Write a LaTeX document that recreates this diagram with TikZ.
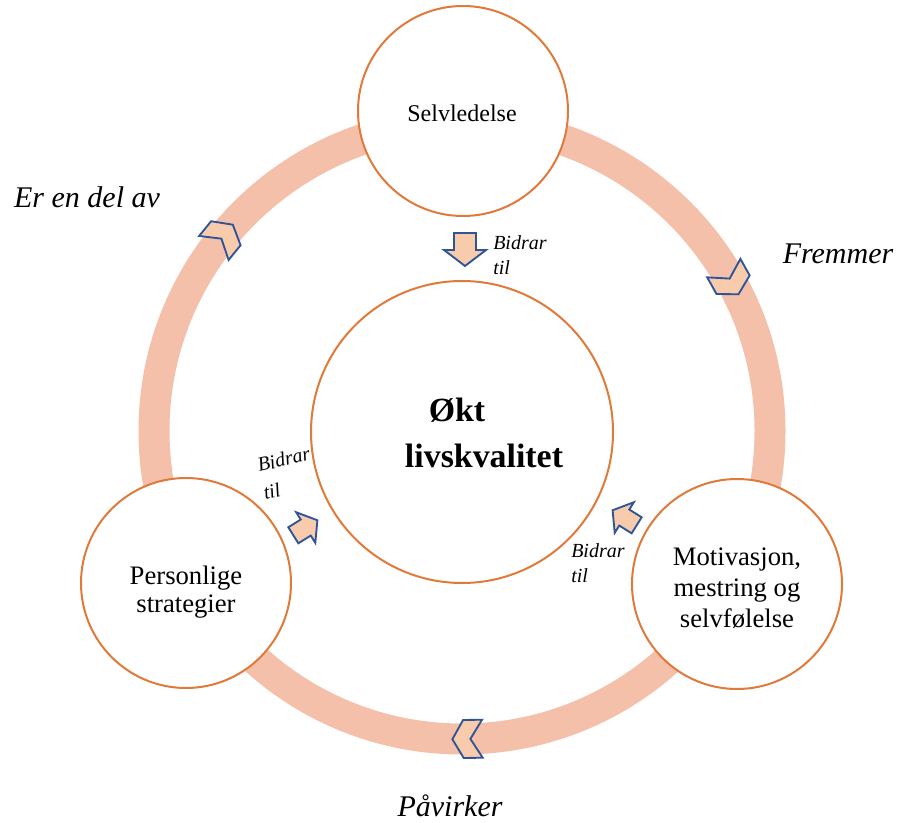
\documentclass[tikz,border=0pt]{standalone}
\usepackage{fontspec}
\setmainfont{Liberation Serif}
\usetikzlibrary{calc}
\definecolor{ringfill}{HTML}{F4C0AA}
\definecolor{circleline}{HTML}{E07A3A}
\definecolor{arrowfill}{HTML}{F8CBAD}
\definecolor{arrowline}{HTML}{2F5597}
\tikzset{
  bubble/.style={circle, draw=circleline, line width=1.5pt, fill=white, inner sep=0pt},
  smallbubble/.style={bubble, minimum size=157.5pt},
  chevron/.style={draw=arrowline, fill=arrowfill, line width=1.4pt, line join=miter},
  blockarrow/.style={draw=arrowline, fill=arrowfill, line width=1.4pt, line join=miter},
  flowlabel/.style={font=\fontsize{22.5}{27}\selectfont\itshape, inner sep=0pt},
  contriblabel/.style={font=\fontsize{15}{18.75}\selectfont\itshape, align=left, inner sep=0pt},
  bubbletext/.style={font=\fontsize{20}{23.25}\selectfont, align=center, inner sep=0pt},
  headline/.style={font=\fontsize{25.4}{35}\selectfont\bfseries, inner sep=0pt}
}
% clockwise chevron on the ring at angle #1 (pixel units, centre (462,-431), radius 308)
\newcommand{\ringchevron}[1]{%
  \draw[chevron, shift={($(462,-431)+(#1:308)$)}, rotate=#1-90]
    (15,0) -- (4,19) -- (-15,19) -- (-3,0) -- (-15,-19) -- (4,-19) -- cycle;}
% block arrow pointing towards the centre
\newcommand{\towardcentre}[3]{%
  \draw[blockarrow, shift={#1}, rotate=#2, scale=#3]
    (-16,11) -- (1,11) -- (1,21) -- (17,0) -- (1,-21) -- (1,-11) -- (-16,-11) -- cycle;}
\begin{document}
\begin{tikzpicture}[x=0.75pt, y=0.75pt]
  \useasboundingbox (0,0) rectangle (898,-823);

  % the cycle ring
  \coordinate (ringcentre) at (462,-431);
  \draw[ringfill, line width=23.25pt] (ringcentre) circle[radius=308];

  % chevrons along the ring (clockwise flow)
  \ringchevron{140.8}
  \ringchevron{29.1}
  \ringchevron{-89}

  % circles
  \node[bubble, minimum size=226.5pt] (centre) at (462,-432) {};
  \node[headline] (okt) at (457,-410) {Økt};
  \node[headline] (livs) at (484,-456) {livskvalitet};

  \node[smallbubble] (selv) at (463,-111) {};
  \node[font=\fontsize{18}{22}\selectfont, inner sep=0pt] (selvtext) at (462,-113) {Selvledelse};

  \node[smallbubble] (pers) at (186,-583) {};
  \node[bubbletext, font=\fontsize{20}{21}\selectfont] (perstext) at (186,-592) {Personlige\\strategier};

  \node[smallbubble] (moti) at (737,-584) {};
  \node[bubbletext] (motitext) at (737,-588) {Motivasjon,\\mestring og\\selvfølelse};

  % arrows into the centre
  \towardcentre{(465,-249)}{-90}{1}
  \towardcentre{(305,-528)}{32}{0.86}
  \towardcentre{(625,-518)}{148}{0.86}

  % labels
  \node[flowlabel] (erendel) at (87,-197) {Er en del av};
  \node[flowlabel] (fremmer) at (838,-254) {Fremmer};
  \node[flowlabel] (paavirker) at (450,-806) {Påvirker};

  \node[contriblabel, anchor=west] (bidragtop) at (493,-255) {Bidrar\\til};
  \node[contriblabel, anchor=base west, rotate=13] (bidragleftA) at (259,-472) {Bidrar};
  \node[contriblabel, anchor=base west, rotate=13] (bidragleftB) at (265,-500) {til};
  \node[contriblabel, anchor=west] (bidragright) at (571,-563) {Bidrar\\til};
\end{tikzpicture}
\end{document}
